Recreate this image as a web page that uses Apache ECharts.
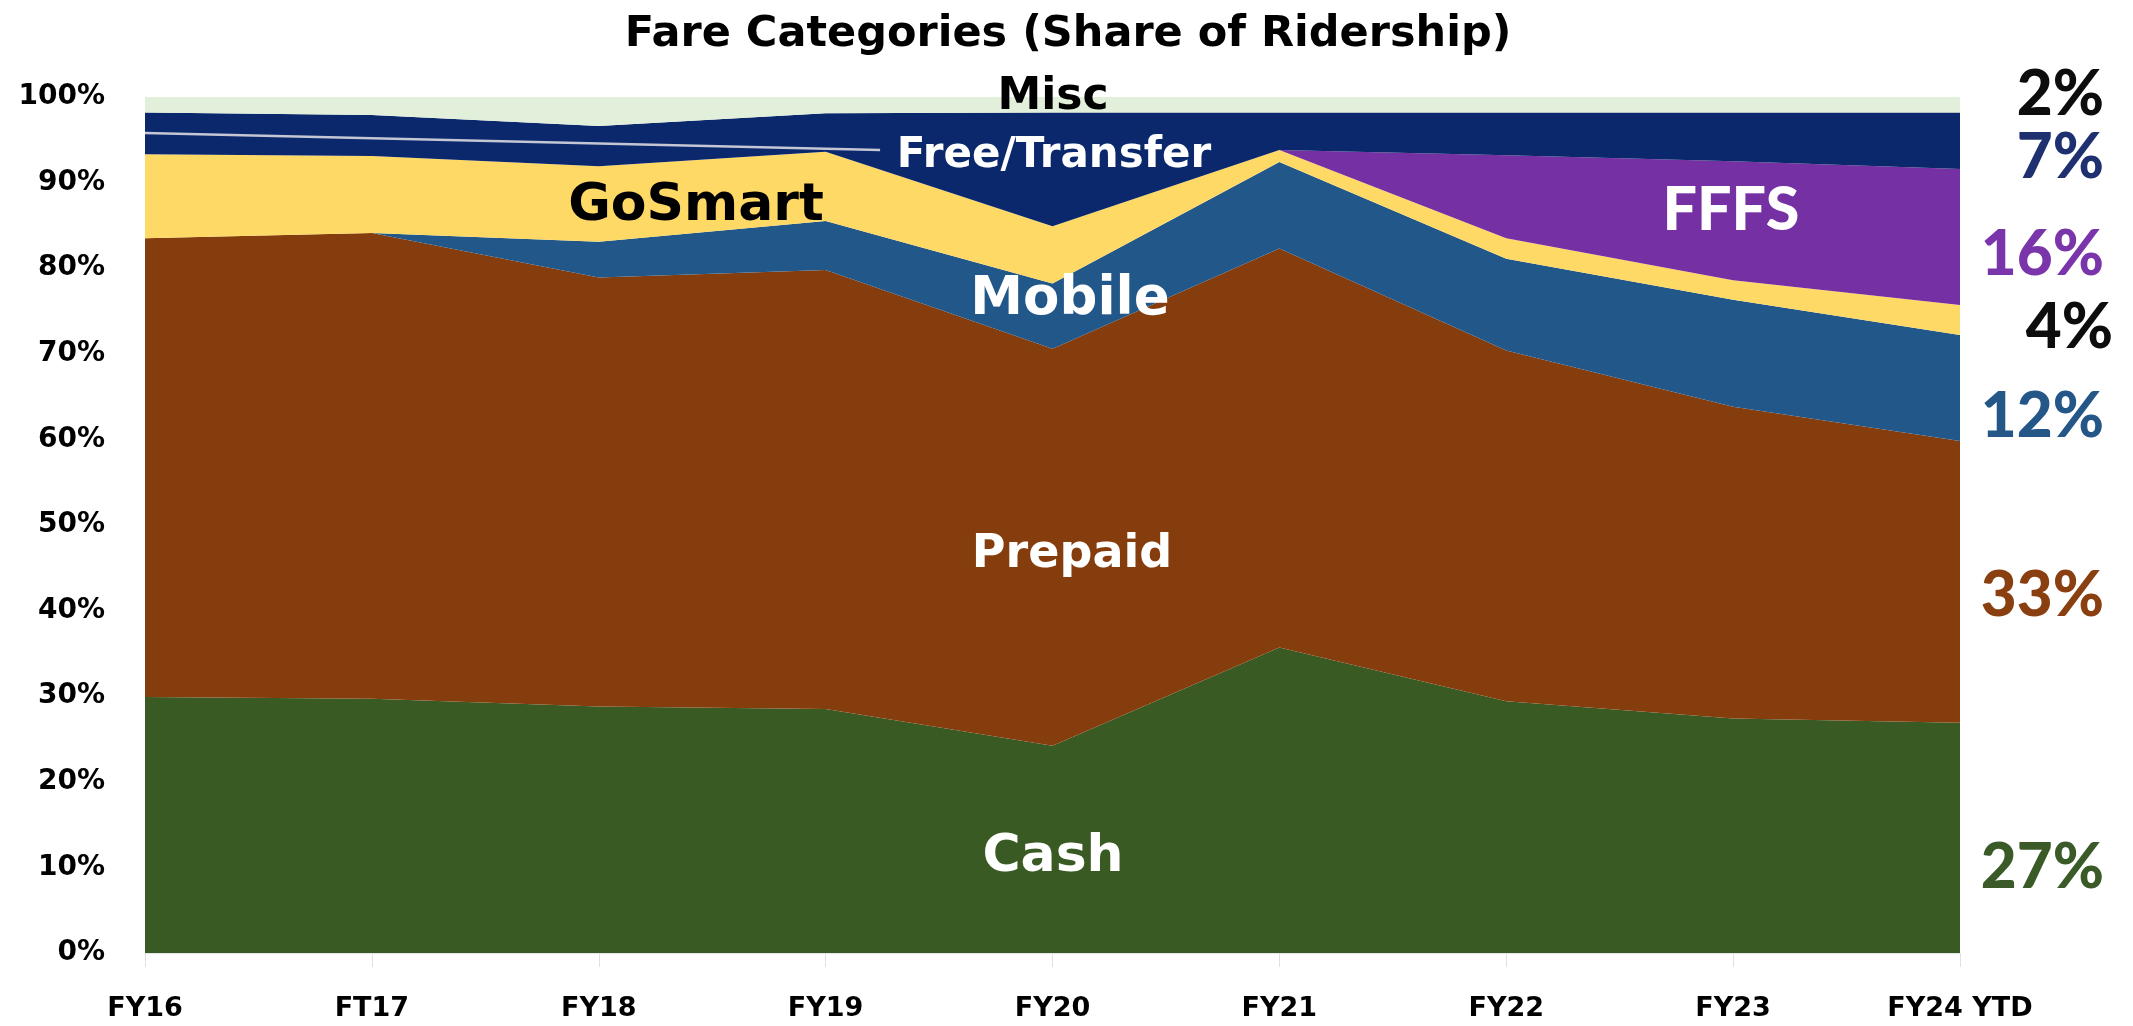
<!DOCTYPE html>
<html><head><meta charset="utf-8">
<script src="https://cdn.jsdelivr.net/npm/echarts@6/dist/echarts.min.js"></script>
<style>html,body{margin:0;padding:0;background:#fff;} #c{width:2133px;height:1026px;}</style>
</head><body><div id="c"></div>
<script>
// ---- data (percent share of ridership) ----
const categories = ['FY16','FT17','FY18','FY19','FY20','FY21','FY22','FY23','FY24 YTD'];
const cash         = [29.9, 29.7, 28.8, 28.5, 24.2, 35.7, 29.4, 27.4, 26.9];
const prepaid      = [53.6, 54.4, 50.1, 51.3, 46.4, 46.6, 41.0, 36.4, 32.9];
const mobile       = [0, 0, 4.2, 5.7, 7.6, 10.1, 10.7, 12.5, 12.4];
const goSmart      = [9.8, 9.0, 8.8, 8.1, 6.7, 1.4, 2.4, 2.3, 3.5];
const fffs         = [0, 0, 0, 0, 0, 0, 9.7, 13.9, 15.9];
const freeTransfer = [4.9, 4.8, 4.7, 4.5, 13.3, 4.4, 5.0, 5.7, 6.6];
const misc         = [1.8, 2.1, 3.4, 1.9, 1.8, 1.8, 1.8, 1.8, 1.8];
// leader line of the Free/Transfer label (x in category-index units, y in %)
const leaderX = [0, 3.24];
const leaderY = [95.8, 93.8];
// end-of-period share labels
const endLabels = ['2%', '7%', '16%', '4%', '12%', '33%', '27%'];

const seriesDefs = [
  ['Cash', cash, '#3a5a24'],
  ['Prepaid', prepaid, '#863d0d'],
  ['Mobile', mobile, '#22578a'],
  ['GoSmart', goSmart, '#ffd966'],
  ['FFFS', fffs, '#7530a3'],
  ['Free/Transfer', freeTransfer, '#0b286c'],
  ['Misc', misc, '#e2efda']
];

const chart = echarts.init(document.getElementById('c'), null, {renderer: 'canvas'});
const DJ = '"DejaVu Sans", sans-serif';
const LT = 'Lato, "Open Sans", sans-serif';

const series = seriesDefs.map(([name, data, color]) => ({
  name, type: 'line', stack: 'total', data,
  symbol: 'none', showSymbol: false,
  lineStyle: {width: 0, color},
  itemStyle: {color},
  areaStyle: {color, opacity: 1},
  emphasis: {disabled: true},
  silent: true
}));
series.push({
  name: 'leader', type: 'line', xAxisIndex: 1,
  data: leaderX.map((x, i) => [x, leaderY[i]]),
  symbol: 'none', lineStyle: {color: '#c4c6d4', width: 2.5}, silent: true, z: 5
});

function txt(text, x, y, size, color, family, align, weight) {
  return {type: 'text', x, y, z: 100, silent: true,
    style: {text, fill: color, fontSize: size, fontWeight: weight || 'bold', fontFamily: family,
      align: align || 'center', verticalAlign: 'middle'}};
}

const endColors = ['#0d0d0d', '#1f3070', '#7a35ab', '#0d0d0d', '#245688', '#8a3f10', '#3a5a27'];
const endY = [95, 158, 255, 328, 417, 596, 868];
const endX = [2104, 2104, 2104, 2113, 2104, 2104, 2104];

option = {
  animation: false,
  backgroundColor: '#ffffff',
  title: {
    text: 'Fare Categories (Share of Ridership)', left: 1063, top: 8, textAlign: 'center',
    textStyle: {fontFamily: DJ, fontWeight: 'bold', fontSize: 43, color: '#000'}
  },
  grid: {left: 145, right: 173, top: 97, bottom: 73, containLabel: false},
  xAxis: [{
    type: 'category', data: categories, boundaryGap: false,
    axisLine: {show: true, lineStyle: {color: '#e6e6e6', width: 1}},
    axisTick: {show: true, length: 14, lineStyle: {color: '#e0e0e0'}},
    axisLabel: {fontFamily: DJ, fontWeight: 'bold', fontSize: 27, color: '#000', margin: 42}
  }, {
    type: 'value', min: 0, max: 8, show: false
  }],
  yAxis: {
    type: 'value', min: 0, max: 100, interval: 10,
    axisLine: {show: false}, axisTick: {show: false}, splitLine: {show: false},
    axisLabel: {formatter: '{value}%', fontFamily: DJ, fontWeight: 'bold', fontSize: 28, color: '#000', margin: 40}
  },
  series,
  graphic: [
    txt('Misc', 1053, 98, 44, '#000', DJ),
    txt('Free/Transfer', 1054, 156, 42, '#fff', DJ),
    txt('GoSmart', 696, 206, 52, '#000', DJ),
    txt('Mobile', 1070, 300, 53, '#fff', DJ),
    txt('FFFS', 1731, 210, 61, '#fff', LT, 'center', 900),
    txt('Prepaid', 1072, 555, 46, '#fff', DJ),
    txt('Cash', 1053, 857, 52, '#fff', DJ)
  ].concat(endLabels.map((t, i) => txt(t, endX[i], endY[i], 62, endColors[i], LT, 'right', 900)))
};
chart.setOption(option);
</script>
</body></html>
